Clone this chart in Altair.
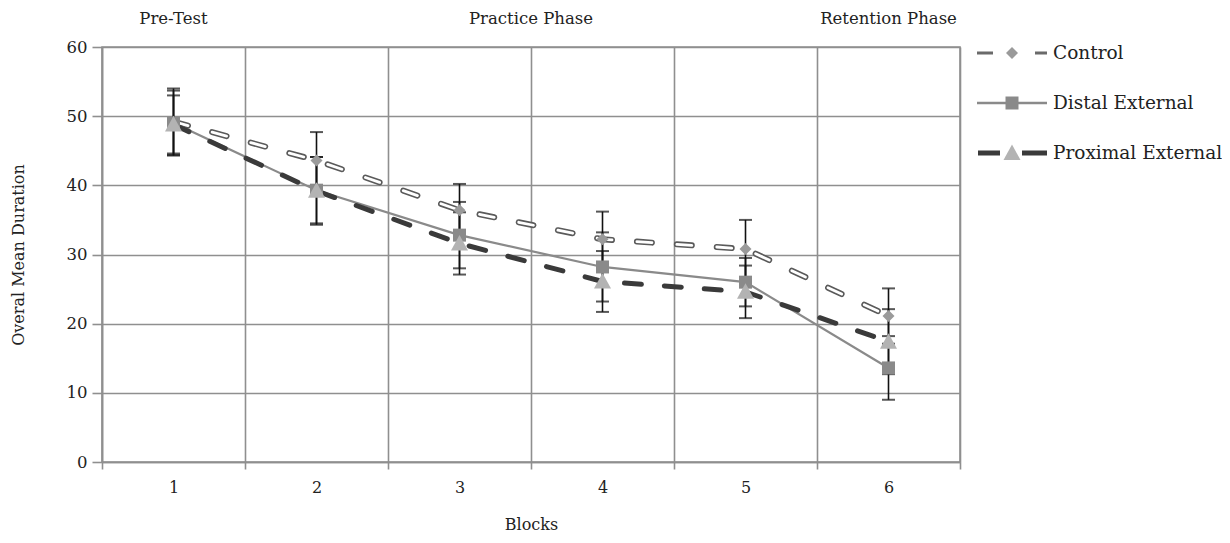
import altair as alt
import pandas as pd

# ---------------- data ----------------
blocks = ["1", "2", "3", "4", "5", "6"]
series = ["Control", "Distal External", "Proximal External"]

control_mean = [49.2, 43.6, 36.4, 32.2, 30.8, 21.1]
control_err = [4.8, 4.1, 3.8, 4.0, 4.2, 4.0]
distal_mean = [49.0, 39.3, 32.8, 28.2, 26.0, 13.6]
distal_err = [4.7, 4.8, 4.8, 5.0, 3.5, 4.6]
proximal_mean = [48.8, 39.2, 31.6, 26.1, 24.6, 17.4]
proximal_err = [4.2, 4.9, 4.5, 4.4, 3.8, 4.7]

centre_phases = ["Pre-Test", "Retention Phase"]
centre_phase_blocks = ["1", "6"]
edge_phases = ["Practice Phase"]
edge_phase_blocks = ["3"]

y_ticks = [0, 10, 20, 30, 40, 50, 60]

# ---------------- tables ----------------
rows = []
for name, means, errs in [
    ("Control", control_mean, control_err),
    ("Distal External", distal_mean, distal_err),
    ("Proximal External", proximal_mean, proximal_err),
]:
    for b, m, e in zip(blocks, means, errs):
        rows.append({"block": b, "series": name, "mean": m, "lo": m - e, "hi": m + e})
df = pd.DataFrame(rows)
legend_df = pd.DataFrame({"series": series})
centre_df = pd.DataFrame({"block": centre_phase_blocks, "label": centre_phases})
edge_df = pd.DataFrame({"block": edge_phase_blocks, "label": edge_phases})

# ---------------- style ----------------
FONT = "DejaVu Serif"
GRID = "#8f8f8f"
TEXT = "#222222"

x_scale = alt.Scale(type="band", domain=blocks, paddingInner=0, paddingOuter=0)
y_scale = alt.Scale(domain=[0, 60], nice=False)

x_axis = alt.Axis(
    tickBand="extent", grid=True, gridColor=GRID, gridWidth=1.6,
    domainColor=GRID, domainWidth=1.6, tickColor=GRID, tickWidth=1.6, tickSize=7,
    labelAngle=0, labelPadding=10, labelFont=FONT, labelFontSize=16, labelColor=TEXT,
    title="Blocks", titleFont=FONT, titleFontSize=16, titleFontWeight="normal",
    titleColor=TEXT, titlePadding=21,
)
y_axis = alt.Axis(
    values=y_ticks, grid=True, gridColor=GRID, gridWidth=1.6,
    domainColor=GRID, domainWidth=1.6, tickColor=GRID, tickWidth=1.6, tickSize=10,
    labelPadding=5, labelFont=FONT, labelFontSize=16.5, labelColor=TEXT,
    title="Overal Mean Duration", titleFont=FONT, titleFontSize=16,
    titleFontWeight="normal", titleColor=TEXT, titlePadding=40,
)


def X(band=0.5):
    return alt.X("block:O", scale=x_scale, axis=x_axis, bandPosition=band, title="Blocks")


def Y(field):
    return alt.Y(f"{field}:Q", scale=y_scale, axis=y_axis, title="Overal Mean Duration")


base = alt.Chart(df)

# lines
ctrl = base.transform_filter(alt.datum.series == "Control")
ctrl_outer = ctrl.mark_line(color="#5a5a5a", strokeWidth=6, strokeDash=[15, 25],
                            strokeCap="round").encode(x=X(), y=Y("mean"))
ctrl_inner = ctrl.mark_line(color="white", strokeWidth=2.8, strokeDash=[15, 25],
                            strokeCap="round").encode(x=X(), y=Y("mean"))
dist_line = base.transform_filter(alt.datum.series == "Distal External").mark_line(
    color="#8a8a8a", strokeWidth=2.2).encode(x=X(), y=Y("mean"))
prox_line = base.transform_filter(alt.datum.series == "Proximal External").mark_line(
    color="#3a3a3a", strokeWidth=5, strokeDash=[17, 23], strokeCap="round"
).encode(x=X(), y=Y("mean"))

# error bars
bars = base.mark_rule(color="#111111", strokeWidth=1.6).encode(x=X(), y=Y("lo"), y2="hi:Q")
cap_lo = base.mark_tick(color="#111111", thickness=2, size=13).encode(x=X(), y=Y("lo"))
cap_hi = base.mark_tick(color="#111111", thickness=2, size=13).encode(x=X(), y=Y("hi"))

# marker shapes (unit = sqrt(size)/2 px)
marker_paths = [
    "M0,-0.6L0.6,0L0,0.6L-0.6,0Z",
    "M-0.65,-0.65H0.65V0.65H-0.65Z",
    "M0,-0.85L0.85,0.7H-0.85Z",
]
marker_colors = ["#9a9a9a", "#8a8a8a", "#b3b3b3"]
line_paths = [
    "M-3.5,-0.16H-1.9V0.16H-3.5Z M2.3,-0.16H3.5V0.16H2.3Z",
    "M-3.5,-0.12H3.5V0.12H-3.5Z",
    "M-3.4,-0.26H-1.2V0.26H-3.4Z M1.0,-0.26H3.5V0.26H1.0Z",
]
line_colors = ["#6a6a6a", "#8a8a8a", "#3a3a3a"]

LEG = dict(orient="none", legendX=900, legendY=-4, title=None, symbolSize=400,
           labelOffset=31, labelFont=FONT, labelFontSize=18.5, labelColor=TEXT,
           labelLimit=400, rowPadding=30, padding=0, symbolStrokeWidth=0)

legend_lines = alt.Chart(legend_df).transform_filter("false").mark_point(
    filled=True, size=400, opacity=1
).encode(
    shape=alt.Shape("series:N", scale=alt.Scale(domain=series, range=line_paths),
                    legend=alt.Legend(**LEG)),
    fill=alt.Fill("series:N", scale=alt.Scale(domain=series, range=line_colors),
                  legend=alt.Legend(**LEG)),
)

markers = base.mark_point(filled=True, size=400, opacity=1).encode(
    x=X(), y=Y("mean"),
    shape=alt.Shape("series:N", scale=alt.Scale(domain=series, range=marker_paths),
                    legend=alt.Legend(labelOpacity=0, **LEG)),
    fill=alt.Fill("series:N", scale=alt.Scale(domain=series, range=marker_colors),
                  legend=alt.Legend(labelOpacity=0, **LEG)),
)

# phase headers
centre_text = alt.Chart(centre_df).mark_text(
    font=FONT, fontSize=16.5, color=TEXT, baseline="middle", align="center"
).encode(x=X(0.5), y=alt.value(-28), text="label:N")
edge_text = alt.Chart(edge_df).mark_text(
    font=FONT, fontSize=16.5, color=TEXT, baseline="middle", align="center"
).encode(x=X(1.0), y=alt.value(-28), text="label:N")

chart = alt.layer(
    ctrl_outer, ctrl_inner, dist_line, prox_line,
    bars, cap_lo, cap_hi, legend_lines, markers, centre_text, edge_text,
).resolve_scale(
    shape="independent", fill="independent"
).resolve_legend(
    shape="independent", fill="independent"
).properties(
    width=858, height=415,
    autosize=alt.AutoSizeParams(type="none"),
    padding={"left": 94, "top": 39, "right": 262, "bottom": 76},
).configure_view(
    stroke=GRID, strokeWidth=1.6
)

chart.save("out.html", embed_options={"renderer": "svg", "actions": False})
